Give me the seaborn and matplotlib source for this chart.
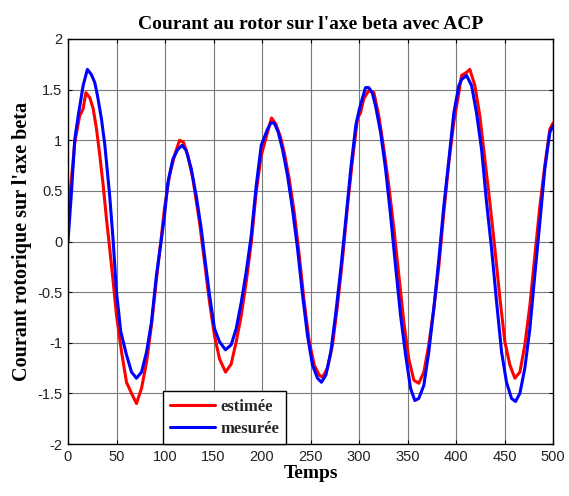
import matplotlib
matplotlib.use("Agg")
import matplotlib.pyplot as plt
import seaborn as sns
import pandas as pd

# Estimated rotor current (beta axis)
t_est = [0, 3.6, 7, 12, 15.6, 18.4, 22.5, 26, 29.4, 32.8, 36.3, 39.7, 43, 46.6, 50,
         55.2, 60.3, 65.5, 70.6, 75.8, 81, 86, 91.2, 96.4, 99.5, 104.6, 109.8, 115,
         119, 123.5, 128.7, 135.6, 140.7, 145.9, 151, 156.2, 162.4, 168.2, 173.4,
         178.6, 183.7, 188.9, 194, 199.2, 205.7, 209.8, 214.2, 218.8, 222.9, 228,
         233.2, 238.4, 243.5, 248.7, 253.8, 259, 262.4, 267.5, 272.7, 277.8, 283,
         288.1, 293.3, 298.5, 301.5, 304.9, 310, 315.3, 320.4, 325.6, 330.7, 335.9,
         341, 346.2, 351.3, 356.5, 361.6, 366.8, 371.9, 377.1, 382.3, 387.4, 392.6,
         397.7, 402.9, 405.7, 410.8, 414.2, 419.4, 424.5, 429.7, 434.8, 440, 445.2,
         450.3, 455.5, 460.6, 465.8, 470.9, 476.1, 481.2, 486.4, 491.5, 496.7, 500]
i_est = [0.28, 0.62, 0.98, 1.24, 1.31, 1.47, 1.42, 1.31, 1.11, 0.85, 0.55, 0.22, -0.07,
         -0.40, -0.73, -1.09, -1.39, -1.50, -1.60, -1.45, -1.19, -0.83, -0.37, 0.06,
         0.33, 0.65, 0.85, 1.00, 0.98, 0.85, 0.62, 0.19, -0.20, -0.60, -0.93, -1.16,
         -1.29, -1.21, -0.99, -0.73, -0.40, -0.01, 0.49, 0.85, 1.08, 1.22, 1.16, 1.04,
         0.88, 0.62, 0.29, -0.14, -0.60, -0.99, -1.22, -1.32, -1.34, -1.25, -1.02,
         -0.63, -0.17, 0.35, 0.81, 1.22, 1.27, 1.41, 1.49, 1.47, 1.24, 0.91, 0.55,
         0.13, -0.33, -0.80, -1.16, -1.37, -1.40, -1.29, -1.02, -0.66, -0.24, 0.29,
         0.78, 1.18, 1.47, 1.64, 1.67, 1.70, 1.54, 1.24, 0.81, 0.39, -0.07, -0.56,
         -0.99, -1.22, -1.35, -1.29, -1.02, -0.63, -0.14, 0.35, 0.75, 1.11, 1.17]

# Measured rotor current (beta axis)
t_mes = [0, 3.6, 7, 10.5, 15.6, 20, 24, 27.6, 30.4, 34.5, 38, 43, 46.6, 50, 54.4,
         60.3, 65.5, 70.6, 75.8, 81, 86, 91.2, 96.4, 99.5, 102.9, 108, 113.2, 117.7,
         121.8, 127, 132.2, 137.3, 140.7, 145.9, 151, 156.2, 162.4, 168.2, 173.4,
         178.6, 183.7, 188.9, 194, 199.2, 205.7, 209, 212.6, 216.7, 221.1, 226.3,
         231.4, 236.6, 241.8, 246.9, 252, 257.2, 261.3, 265.8, 270.9, 276.1, 281.2,
         286.4, 291.5, 296.7, 300.2, 303.3, 306.7, 310, 313.6, 317, 322.2, 327.3,
         332.5, 337.6, 342.8, 348, 353.1, 357.5, 361.6, 366.8, 371.9, 377.1, 382.3,
         387.4, 392.6, 397.7, 402.9, 405.7, 410.8, 416, 421.1, 426.3, 431.4, 436.6,
         441.8, 446.9, 452, 457.2, 461.3, 465.8, 470.9, 476.1, 481.2, 486.4, 491.5,
         496.7, 500]
i_mes = [0.0, 0.49, 1.01, 1.24, 1.54, 1.70, 1.65, 1.57, 1.44, 1.21, 0.95, 0.45, 0.0,
         -0.50, -0.89, -1.12, -1.29, -1.35, -1.29, -1.09, -0.80, -0.33, 0.03, 0.26,
         0.58, 0.81, 0.91, 0.95, 0.90, 0.72, 0.45, 0.13, -0.14, -0.53, -0.86, -0.99,
         -1.07, -1.02, -0.86, -0.60, -0.30, 0.06, 0.55, 0.95, 1.11, 1.17, 1.17, 1.08,
         0.91, 0.65, 0.32, -0.07, -0.53, -0.93, -1.22, -1.35, -1.39, -1.32, -1.09,
         -0.70, -0.27, 0.22, 0.72, 1.15, 1.30, 1.41, 1.52, 1.52, 1.47, 1.34, 1.08,
         0.72, 0.26, -0.24, -0.73, -1.12, -1.45, -1.57, -1.55, -1.42, -1.09, -0.66,
         -0.17, 0.35, 0.81, 1.27, 1.54, 1.60, 1.64, 1.54, 1.27, 0.91, 0.39, -0.07,
         -0.60, -1.09, -1.39, -1.55, -1.58, -1.50, -1.25, -0.86, -0.33, 0.19, 0.72,
         1.08, 1.14]

series_names = ["estimée", "mesurée"]
x_ticks = [0, 50, 100, 150, 200, 250, 300, 350, 400, 450, 500]
y_ticks = [-2, -1.5, -1, -0.5, 0, 0.5, 1, 1.5, 2]
y_tick_labels = ["-2", "-1.5", "-1", "-0.5", "0", "0.5", "1", "1.5", "2"]

df = pd.concat([
    pd.DataFrame({"Temps": t_est, "courant": i_est, "signal": series_names[0]}),
    pd.DataFrame({"Temps": t_mes, "courant": i_mes, "signal": series_names[1]}),
], ignore_index=True)

sns.set_theme(style="whitegrid")
serif = "Liberation Serif"
sans = "Liberation Sans"
plt.rcParams["font.family"] = [sans, "DejaVu Sans"]

fig = plt.figure(figsize=(5.69, 4.96), dpi=100)
ax = fig.add_axes([0.1195, 0.1048, 0.8525, 0.8166])

sns.lineplot(data=df, x="Temps", y="courant", hue="signal",
             hue_order=series_names,
             palette={series_names[0]: "#ff0000", series_names[1]: "#0000ff"},
             estimator=None, sort=False, linewidth=2.2, ax=ax)

ax.set_xlim(0, 500)
ax.set_ylim(-2, 2)
ax.set_xticks(x_ticks)
ax.set_yticks(y_ticks)
ax.set_yticklabels(y_tick_labels)
ax.tick_params(axis="both", direction="in", length=3, width=0.8, color="black",
               labelsize=10.5, labelcolor="#222222", top=True, right=True,
               bottom=True, left=True, pad=4)
for lab in ax.get_xticklabels() + ax.get_yticklabels():
    lab.set_fontfamily(sans)

ax.grid(True, color="#7a7a7a", linewidth=0.8, linestyle="-")
ax.set_facecolor("white")
for side in ax.spines.values():
    side.set_edgecolor("black")
    side.set_linewidth(1.0)

ax.set_title("Courant au rotor sur l'axe beta avec ACP", fontfamily=serif,
             fontweight="bold", fontsize=14, color="black", pad=7)
ax.set_xlabel("Temps", fontfamily=serif, fontweight="bold", fontsize=14,
              color="black", labelpad=1)
ax.set_ylabel("Courant rotorique sur l'axe beta", fontfamily=serif,
              fontweight="bold", fontsize=14.5, color="black", labelpad=4)

leg = ax.legend(loc="lower left", bbox_to_anchor=(0.195, 0.0), borderaxespad=0.0,
                frameon=True, fancybox=False, framealpha=1, edgecolor="black",
                handlelength=2.7, handletextpad=0.3, borderpad=0.45,
                labelspacing=0.35,
                prop={"family": serif, "weight": "bold", "size": 12})
leg.get_frame().set_linewidth(1.0)
for line in leg.get_lines():
    line.set_linewidth(2.2)

fig.savefig("out.png", dpi=100, facecolor="white")
